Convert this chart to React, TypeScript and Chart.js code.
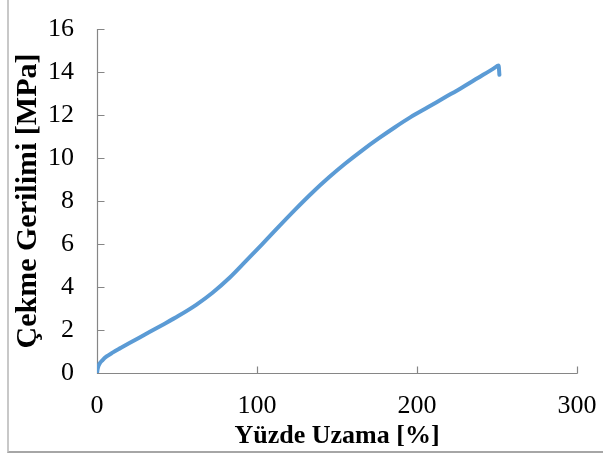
import React, { useEffect, useRef } from "react";
import { Chart, registerables } from "chart.js";

Chart.register(...registerables);

const elongation: number[] = [0, 0.5, 1.5, 3.5, 6, 10, 15, 20, 30, 40, 51, 62, 72, 83, 93, 103, 113, 124, 134, 145, 155, 166, 176, 186, 196, 207, 217, 228, 238, 248, 251, 251.5];
const stress: number[] = [0, 0.22, 0.42, 0.6, 0.77, 0.96, 1.17, 1.38, 1.79, 2.2, 2.66, 3.17, 3.72, 4.44, 5.2, 5.97, 6.76, 7.61, 8.35, 9.1, 9.73, 10.37, 10.91, 11.42, 11.9, 12.37, 12.8, 13.27, 13.72, 14.17, 14.3, 13.87];

const xTicks: number[] = [0, 100, 200, 300];
const yTicks: number[] = [0, 2, 4, 6, 8, 10, 12, 14, 16];

const xTitle = "Yüzde Uzama [%]";
const yTitle = "Çekme Gerilimi [MPa]";

const FONT = "'Liberation Serif', 'Times New Roman', serif";

const axisPlugin = {
  id: "insideAxes",
  beforeDatasetsDraw(chart: any) {
    const { ctx, chartArea, scales } = chart;
    const xs = scales.x;
    const ys = scales.y;
    const L = 7;
    ctx.save();
    ctx.strokeStyle = "#868686";
    ctx.lineWidth = 1.2;
    const left = Math.round(chartArea.left) + 0.5;
    const bottom = Math.round(chartArea.bottom) + 0.5;
    ctx.beginPath();
    ctx.moveTo(left, Math.round(chartArea.top));
    ctx.lineTo(left, bottom);
    ctx.lineTo(Math.round(chartArea.right) + 0.5, bottom);
    yTicks.forEach((v) => {
      const y = Math.round(ys.getPixelForValue(v)) + 0.5;
      ctx.moveTo(left, y);
      ctx.lineTo(left + L, y);
    });
    xTicks.forEach((v) => {
      const x = Math.round(xs.getPixelForValue(v)) + 0.5;
      ctx.moveTo(x, bottom);
      ctx.lineTo(x, bottom - L);
    });
    ctx.stroke();
    ctx.restore();
  },
};

const zeroPad = (s: any) => {
  s.paddingTop = 0;
  s.paddingBottom = 0;
  s.paddingLeft = 0;
  s.paddingRight = 0;
};

export default function App() {
  const ref = useRef<HTMLCanvasElement>(null);
  useEffect(() => {
    if (!ref.current) return;
    const data = elongation.map((x, i) => ({ x, y: stress[i] }));
    const chart = new Chart(ref.current, {
      type: "line",
      data: {
        datasets: [
          {
            data,
            borderColor: "#5B9BD5",
            borderWidth: 4,
            pointRadius: 0,
            fill: false,
            cubicInterpolationMode: "monotone",
            borderCapStyle: "round",
            borderJoinStyle: "round",
          },
        ],
      },
      options: {
        animation: false,
        responsive: false,
        devicePixelRatio: 1,
        parsing: false,
        layout: { padding: { left: 0, top: 29, right: 26, bottom: 0 } },
        plugins: { legend: { display: false }, tooltip: { enabled: false } },
        scales: {
          x: {
            type: "linear",
            min: 0,
            max: 300,
            afterBuildTicks: (s: any) => {
              s.ticks = xTicks.map((v) => ({ value: v }));
            },
            afterFit: (s: any) => {
              s.height = 82;
              zeroPad(s);
            },
            grid: { display: false, drawTicks: false },
            border: { display: false },
            ticks: { color: "#000", font: { family: FONT, size: 26 }, padding: 18, maxRotation: 0 },
            title: {
              display: true,
              text: xTitle,
              color: "#000",
              font: { family: FONT, size: 26, weight: "bold" },
              padding: { top: 0, bottom: 3 },
            },
          },
          y: {
            type: "linear",
            min: 0,
            max: 16,
            afterBuildTicks: (s: any) => {
              s.ticks = yTicks.map((v) => ({ value: v }));
            },
            afterFit: (s: any) => {
              s.width = 97;
              zeroPad(s);
            },
            grid: { display: false, drawTicks: false },
            border: { display: false },
            ticks: { color: "#000", font: { family: FONT, size: 26 }, padding: 23 },
            title: {
              display: true,
              text: yTitle,
              color: "#000",
              font: { family: FONT, size: 30, weight: "bold" },
              padding: { top: 10, bottom: 0 },
            },
          },
        },
      },
      plugins: [axisPlugin],
    } as any);
    return () => chart.destroy();
  }, []);

  return (
    <div style={{ position: "fixed", left: 0, top: 0, width: 603, height: 455, background: "#fff" }}>
      <div
        style={{
          position: "absolute",
          left: 7,
          top: 0,
          width: 596,
          height: 451,
          borderLeft: "2px solid #c8c8c8",
          borderBottom: "2px solid #a6a6a6",
        }}
      />
      <canvas ref={ref} width={603} height={455} style={{ position: "absolute", left: 0, top: 0 }} />
    </div>
  );
}
